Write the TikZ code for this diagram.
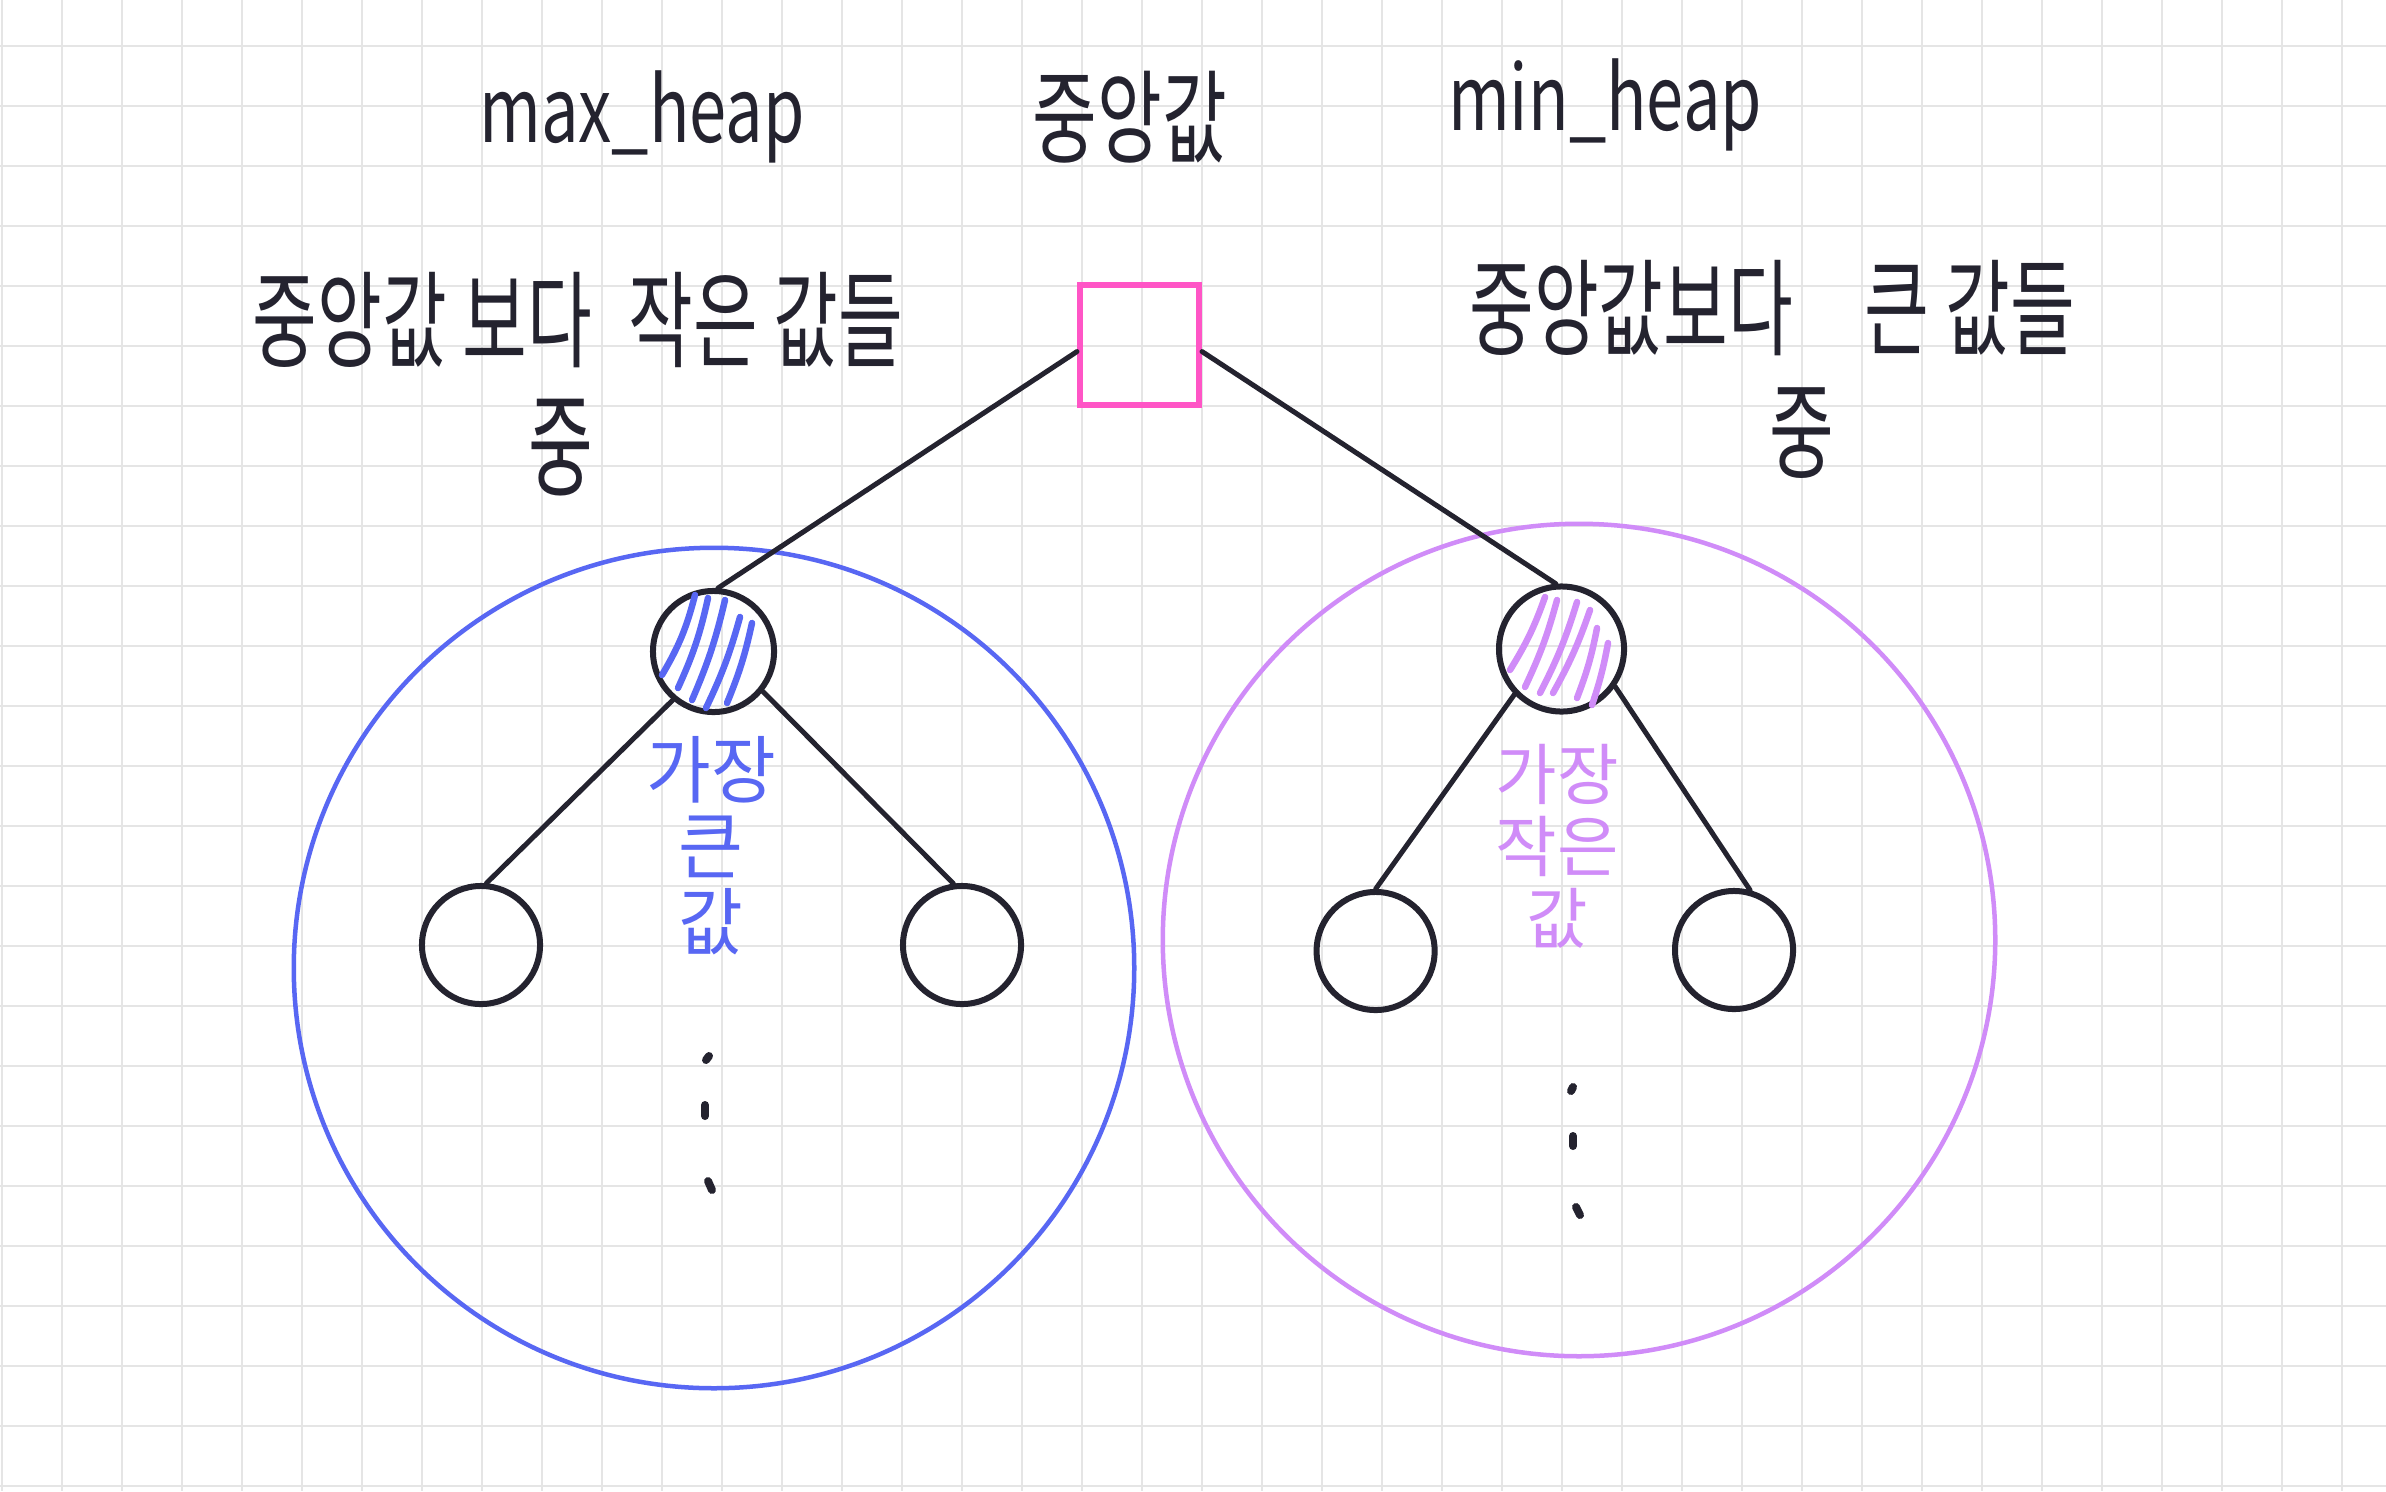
\documentclass[tikz,border=0pt]{standalone}
\usepackage{fontspec}
\usepackage{graphicx}
\setmainfont{Noto Sans CJK KR}
\definecolor{ink}{HTML}{24232F}
\definecolor{gridc}{HTML}{E5E5E5}
\definecolor{bluec}{HTML}{5867F3}
\definecolor{purc}{HTML}{D08CF8}
\definecolor{pinkc}{HTML}{FF55C6}
\newcommand{\tall}[2][1.4]{\scalebox{1}[#1]{#2}}
\begin{document}
\begin{tikzpicture}[x=0.01cm,y=-0.01cm,
  gridline/.style={gridc, line width=0.02cm},
  bigring/.style={circle, line width=0.045cm, minimum size=8.4cm, inner sep=0pt},
  medbox/.style={rectangle, draw=pinkc, line width=0.06cm, minimum size=1.19cm, inner sep=0pt},
  heapnode/.style={circle, draw=ink, line width=0.06cm, minimum size=1.18cm, inner sep=0pt},
  edge/.style={ink, line width=0.05cm, line cap=round},
  hatchb/.style={bluec, line width=0.065cm, line cap=round},
  hatchp/.style={purc, line width=0.065cm, line cap=round},
  dotstroke/.style={ink, line width=0.08cm, line cap=round},
  lbl/.style={text=ink, inner sep=0pt, font=\fontsize{20}{24}\selectfont},
  latin/.style={text=ink, inner sep=0pt, font=\fontsize{19}{23}\selectfont},
]
\useasboundingbox (0,0) rectangle (2386,1491);
\fill[white] (0,0) rectangle (2386,1491);
\foreach \i in {0,...,39} \draw[gridline] (2+60*\i,0) -- (2+60*\i,1491);
\foreach \j in {0,...,24} \draw[gridline] (0,46+60*\j) -- (2386,46+60*\j);

% group rings
\node[bigring, draw=bluec] (maxg) at (714,968) {};
\node[bigring, draw=purc, minimum size=8.32cm] (ming) at (1579,940) {};

% nodes
\node[medbox] (med) at (1139.5,345) {};
\node[heapnode, minimum size=1.21cm] (hl) at (713.5,651.5) {};
\node[heapnode, minimum size=1.25cm] (hr) at (1561.5,649) {};
\node[heapnode] (l1) at (481,945) {};
\node[heapnode] (l2) at (962,945) {};
\node[heapnode] (r1) at (1375.6,951) {};
\node[heapnode] (r2) at (1734,950) {};

% hatching of the roots
\draw[hatchb] (695,595) to[bend left=8] (662,675);
\draw[hatchb] (708,598) to[bend left=6] (678,688);
\draw[hatchb] (725,600) to[bend left=5] (692,700);
\draw[hatchb] (740,617) to[bend left=5] (706,708);
\draw[hatchb] (752,623) to[bend left=5] (727,703);
\draw[hatchp] (1545,597) to[bend left=6] (1510,670);
\draw[hatchp] (1557,600) to[bend left=5] (1525,687);
\draw[hatchp] (1577,602) to[bend left=5] (1540,693);
\draw[hatchp] (1590,610) to[bend left=5] (1553,693);
\draw[hatchp] (1597,628) to[bend left=5] (1577,698);
\draw[hatchp] (1608,643) to[bend left=4] (1592,705);

% connectors
\draw[edge] (med.186) -- (hl.86);
\draw[edge] (med.-6) -- (hr.95);
\draw[edge] (hl.230) -- (l1.85);
\draw[edge] (hl.-39) -- (l2.98);
\draw[edge] (hr.224) -- (r1.north);
\draw[edge] (hr.-35) -- (r2.75);

% ellipsis dots
\draw[dotstroke] (709,1056) -- (706,1060);
\draw[dotstroke] (705,1105) -- (705,1116);
\draw[dotstroke] (708,1181) -- (712,1190);
\draw[dotstroke] (1573,1087) -- (1571,1091);
\draw[dotstroke] (1573,1136) -- (1573,1146);
\draw[dotstroke] (1576,1207) -- (1580,1215);

% labels
\node[latin, anchor=base] (tmax) at (642,143) {\tall[1.35]{max\_heap}};
\node[latin, anchor=base] (tmin) at (1605,130) {\tall[1.35]{min\_heap}};
\node[lbl] (tmed) at (1130,117) {\tall[1.45]{중앙값}};
\node[lbl] (tleft) at (578,320) {\tall[1.5]{중앙값 보다\hspace{0.3em} 작은 값들}};
\node[lbl] (tleft2) at (561,448) {\tall[1.6]{중}};
\node[lbl] (tright) at (1772,308) {\tall[1.5]{중앙값보다\hspace{0.8em} 큰 값들}};
\node[lbl] (tright2) at (1802,433) {\tall[1.5]{중}};
\node[lbl, text=bluec, align=center, font=\fontsize{20}{21.6}\selectfont] (tbig) at (711,846) {\tall[1.05]{가장}\\\tall[1.05]{큰}\\\tall[1.05]{값}};
\node[lbl, text=purc, align=center, font=\fontsize{19}{20.5}\selectfont] (tsmall) at (1557,846) {가장\\작은\\값};
\end{tikzpicture}
\end{document}
